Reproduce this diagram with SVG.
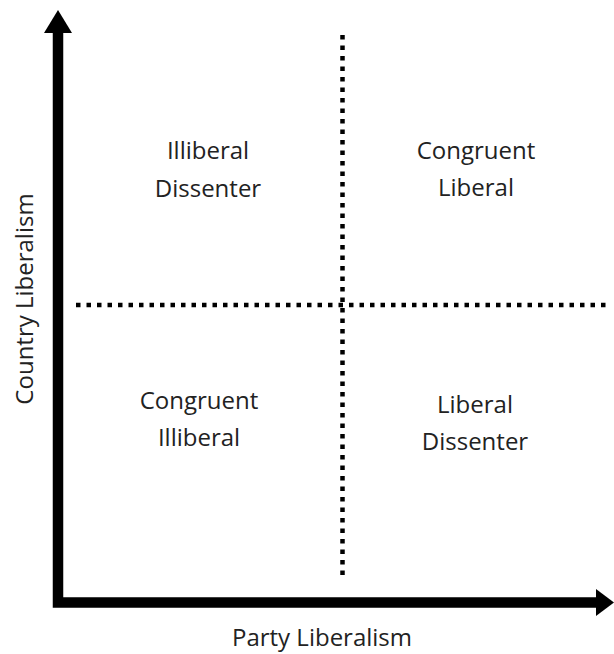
<svg xmlns="http://www.w3.org/2000/svg" width="614" height="654" viewBox="0 0 614 654">
  <style>
    .lbl { font-family: "Open Sans", "Noto Sans", "DejaVu Sans", sans-serif; font-size: 24px; fill: #222; text-anchor: middle; }
    .axis { fill: none; stroke: #000; stroke-width: 10.5; stroke-linejoin: miter; }
    .dot { fill: none; stroke: #000; stroke-width: 4.5; stroke-dasharray: 4.5 6; }
    .head { fill: #000; }
  </style>
  <rect width="614" height="654" fill="#fff"/>
  <g id="connectors">
    <path class="axis" d="M58,30 V602.5 H598"/>
    <polygon class="head" points="58,10 72,33 44,33"/>
    <polygon class="head" points="614,602.5 596,589 596,616"/>
    <line id="v-divider" class="dot" x1="342.5" y1="35" x2="342.5" y2="575"/>
    <line id="h-divider" class="dot" x1="76" y1="305" x2="606" y2="305"/>
  </g>
  <g id="illiberal-dissenter">
    <text class="lbl" x="208" y="159">Illiberal</text>
    <text class="lbl" x="208" y="197">Dissenter</text>
  </g>
  <g id="congruent-liberal">
    <text class="lbl" x="476" y="159">Congruent</text>
    <text class="lbl" x="476" y="196">Liberal</text>
  </g>
  <g id="congruent-illiberal">
    <text class="lbl" x="199" y="409">Congruent</text>
    <text class="lbl" x="199" y="446">Illiberal</text>
  </g>
  <g id="liberal-dissenter">
    <text class="lbl" x="475" y="413">Liberal</text>
    <text class="lbl" x="475" y="450">Dissenter</text>
  </g>
  <g id="x-axis-label">
    <text class="lbl" x="322" y="646">Party Liberalism</text>
  </g>
  <g id="y-axis-label">
    <text class="lbl" x="0" y="0" transform="translate(33,299) rotate(-90)">Country Liberalism</text>
  </g>
</svg>
